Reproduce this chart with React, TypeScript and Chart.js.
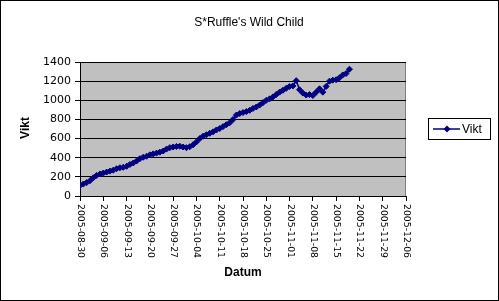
import React, { useEffect, useRef } from "react";
import { Chart, registerables } from "chart.js";

Chart.register(...registerables);

const chartTitle = "S*Ruffle's Wild Child";
const seriesName = "Vikt";
const yAxisTitle = "Vikt";
const xAxisTitle = "Datum";

// days since 2005-08-30
const dayIndex = Array.from({ length: 82 }, (_, i) => i);
const weights = [
  110, 125, 140, 160, 190, 215, 230, 240, 250, 260,
  270, 285, 295, 300, 310, 330, 345, 365, 390, 405,
  415, 430, 440, 448, 458, 470, 490, 505, 512, 518,
  520, 512, 505, 515, 535, 565, 600, 625, 640, 655,
  670, 690, 705, 725, 745, 765, 800, 845, 862, 872,
  882, 895, 915, 930, 950, 975, 1000, 1015, 1035, 1060,
  1085, 1105, 1125, 1145, 1150, 1205, 1110, 1075, 1055, 1060,
  1050, 1085, 1120, 1085, 1145, 1200, 1210, 1215, 1235, 1265,
  1280, 1325,
];

const xTickValues = [0, 7, 14, 21, 28, 35, 42, 49, 56, 63, 70, 77, 84, 91, 98];
const xTickLabels = [
  "2005-08-30", "2005-09-06", "2005-09-13", "2005-09-20", "2005-09-27",
  "2005-10-04", "2005-10-11", "2005-10-18", "2005-10-25", "2005-11-01",
  "2005-11-08", "2005-11-15", "2005-11-22", "2005-11-29", "2005-12-06",
];
const yTickValues = [0, 200, 400, 600, 800, 1000, 1200, 1400];

const NAVY = "#000080";
const SANS = "Arial, 'Liberation Sans', sans-serif";

const decor = {
  id: "decor",
  beforeDraw(chart: any) {
    const { ctx, chartArea: a } = chart;
    ctx.save();
    ctx.fillStyle = "#ffffff";
    ctx.fillRect(0, 0, chart.width, chart.height);
    ctx.fillStyle = "#c0c0c0";
    ctx.fillRect(a.left, a.top, a.right - a.left, a.bottom - a.top);
    ctx.strokeStyle = "#808080";
    ctx.lineWidth = 1;
    ctx.strokeRect(Math.round(a.left) + 0.5, Math.round(a.top) + 0.5,
      Math.round(a.right - a.left) - 1, Math.round(a.bottom - a.top));
    ctx.restore();
  },
  afterDraw(chart: any) {
    const { ctx, chartArea: a } = chart;
    const xs = chart.scales.x;
    ctx.save();
    ctx.fillStyle = "#000";
    // title
    ctx.font = `12px ${SANS}`;
    ctx.textAlign = "center";
    ctx.textBaseline = "middle";
    ctx.fillText(chartTitle, 249, 23);
    // x axis title
    ctx.font = `bold 12px ${SANS}`;
    ctx.fillText(xAxisTitle, (a.left + a.right) / 2, 273);
    // y axis title
    ctx.save();
    ctx.translate(26, 128);
    ctx.rotate(-Math.PI / 2);
    ctx.fillText(yAxisTitle, 0, 0);
    ctx.restore();
    // x tick labels (rotated clockwise)
    ctx.font = `9.3px 'DejaVu Sans', sans-serif`;
    ctx.textAlign = "left";
    ctx.textBaseline = "middle";
    xTickValues.forEach((v, i) => {
      const px = xs.getPixelForValue(v);
      ctx.save();
      ctx.translate(Math.round(px) + 0.5, a.bottom + 8);
      ctx.rotate(Math.PI / 2);
      ctx.fillText(xTickLabels[i], 0, 0);
      ctx.restore();
    });
    // legend
    ctx.fillStyle = "#fff";
    ctx.fillRect(428, 118, 63, 22);
    ctx.strokeStyle = "#000";
    ctx.lineWidth = 1;
    ctx.strokeRect(428.5, 118.5, 62, 21);
    ctx.strokeStyle = NAVY;
    ctx.lineWidth = 1.5;
    ctx.beginPath();
    ctx.moveTo(433, 129);
    ctx.lineTo(460, 129);
    ctx.stroke();
    ctx.fillStyle = NAVY;
    ctx.beginPath();
    ctx.moveTo(447, 125.5);
    ctx.lineTo(450.5, 129);
    ctx.lineTo(447, 132.5);
    ctx.lineTo(443.5, 129);
    ctx.closePath();
    ctx.fill();
    ctx.fillStyle = "#000";
    ctx.font = `12px ${SANS}`;
    ctx.textAlign = "left";
    ctx.fillText(seriesName, 462, 129.5);
    // outer border
    ctx.strokeStyle = "#000";
    ctx.lineWidth = 1;
    ctx.strokeRect(0.5, 0.5, chart.width - 1, chart.height - 1);
    ctx.restore();
  },
};

export default function App() {
  const ref = useRef<HTMLCanvasElement>(null);
  useEffect(() => {
    document.body.style.margin = "0";
    const canvas = ref.current!;
    const chart = new Chart(canvas, {
      type: "line",
      data: {
        datasets: [
          {
            label: seriesName,
            data: dayIndex.map((d, i) => ({ x: d, y: weights[i] })),
            borderColor: NAVY,
            backgroundColor: NAVY,
            borderWidth: 1.5,
            pointStyle: "rectRot",
            pointRadius: 3,
            pointBorderWidth: 1,
            pointBackgroundColor: NAVY,
            pointBorderColor: NAVY,
            tension: 0,
          },
        ],
      },
      options: {
        animation: false,
        responsive: false,
        devicePixelRatio: 1,
        layout: { padding: { left: 0, right: 93, top: 62, bottom: 0 } },
        plugins: { legend: { display: false }, tooltip: { enabled: false } },
        scales: {
          x: {
            type: "linear",
            min: 0,
            max: 98,
            afterBuildTicks: (s: any) => {
              s.ticks = xTickValues.map((v) => ({ value: v }));
            },
            afterFit: (s: any) => {
              s.height = 105;
            },
            ticks: { display: false },
            grid: {
              drawOnChartArea: false,
              drawTicks: true,
              tickLength: 5,
              color: "#000",
            },
            border: { color: "#000", width: 1 },
          },
          y: {
            min: 0,
            max: 1400,
            afterBuildTicks: (s: any) => {
              s.ticks = yTickValues.map((v) => ({ value: v }));
            },
            afterFit: (s: any) => {
              s.width = 80;
            },
            ticks: {
              color: "#000",
              font: { family: "'DejaVu Sans', sans-serif", size: 11 },
              padding: 4,
              callback: (v: any) => String(v),
            },
            grid: { color: "#000", tickLength: 5, drawTicks: true },
            border: { color: "#000", width: 1 },
          },
        },
      },
      plugins: [decor],
    });
    return () => chart.destroy();
  }, []);
  return <canvas ref={ref} width={499} height={301} style={{ display: "block" }} />;
}
